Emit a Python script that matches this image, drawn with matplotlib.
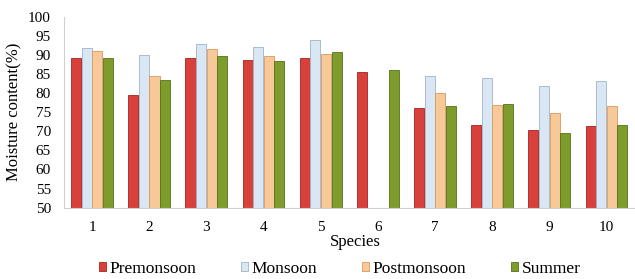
import numpy as np
import matplotlib.pyplot as plt

plt.rcParams['font.family'] = ['Liberation Serif', 'DejaVu Serif']

species = ['1', '2', '3', '4', '5', '6', '7', '8', '9', '10']
premonsoon = [89.2, 79.6, 89.2, 88.7, 89.2, 85.6, 76.1, 71.6, 70.3, 71.4]
monsoon = [92.0, 90.0, 92.8, 92.1, 94.1, np.nan, 84.6, 84.1, 81.9, 83.1]
postmonsoon = [91.1, 84.6, 91.5, 89.7, 90.4, np.nan, 80.0, 77.0, 74.9, 76.6]
summer = [89.2, 83.4, 89.8, 88.5, 90.7, 86.1, 76.7, 77.1, 69.5, 71.7]

series = [('Premonsoon', premonsoon, '#d8413b', '#a8231f'),
          ('Monsoon', monsoon, '#d9e6f3', '#9fb3c8'),
          ('Postmonsoon', postmonsoon, '#f7c998', '#d99a5c'),
          ('Summer', summer, '#7d9c2b', '#56711a')]

fig = plt.figure(figsize=(6.35, 2.79), dpi=100)
ax = fig.add_axes([0.1, 0.256, 0.9, 0.683])

x = np.arange(len(species))
w = 0.185
for i, (name, vals, color, edge) in enumerate(series):
    ax.bar(x + (i - 1.5) * w, vals, w * 0.95, color=color, edgecolor=edge,
           linewidth=0.6, label=name)

ax.set_ylim(50, 100)
ax.set_xlim(-0.5, len(species) - 0.5)
ax.set_yticks(range(50, 101, 5))
ax.set_xticks(x)
ax.set_xticklabels(species)
ax.tick_params(length=0, labelsize=11)
ax.tick_params(axis='x', pad=10)
ax.tick_params(axis='y', pad=9)
for s in ['top', 'right']:
    ax.spines[s].set_visible(False)
for s in ['left', 'bottom']:
    ax.spines[s].set_color('#d0d0d0')
ax.set_ylabel('Moisture content(%)', fontsize=12, labelpad=4)
ax.set_xlabel('Species', fontsize=12)
ax.xaxis.set_label_coords(0.51, -0.14)

fig.legend(loc='center', bbox_to_anchor=(0.535, 0.036), ncol=4, frameon=False,
           fontsize=12.5, handlelength=0.4, handleheight=0.4, handletextpad=0.2,
           columnspacing=2.6)

fig.savefig('out.png', dpi=100)
